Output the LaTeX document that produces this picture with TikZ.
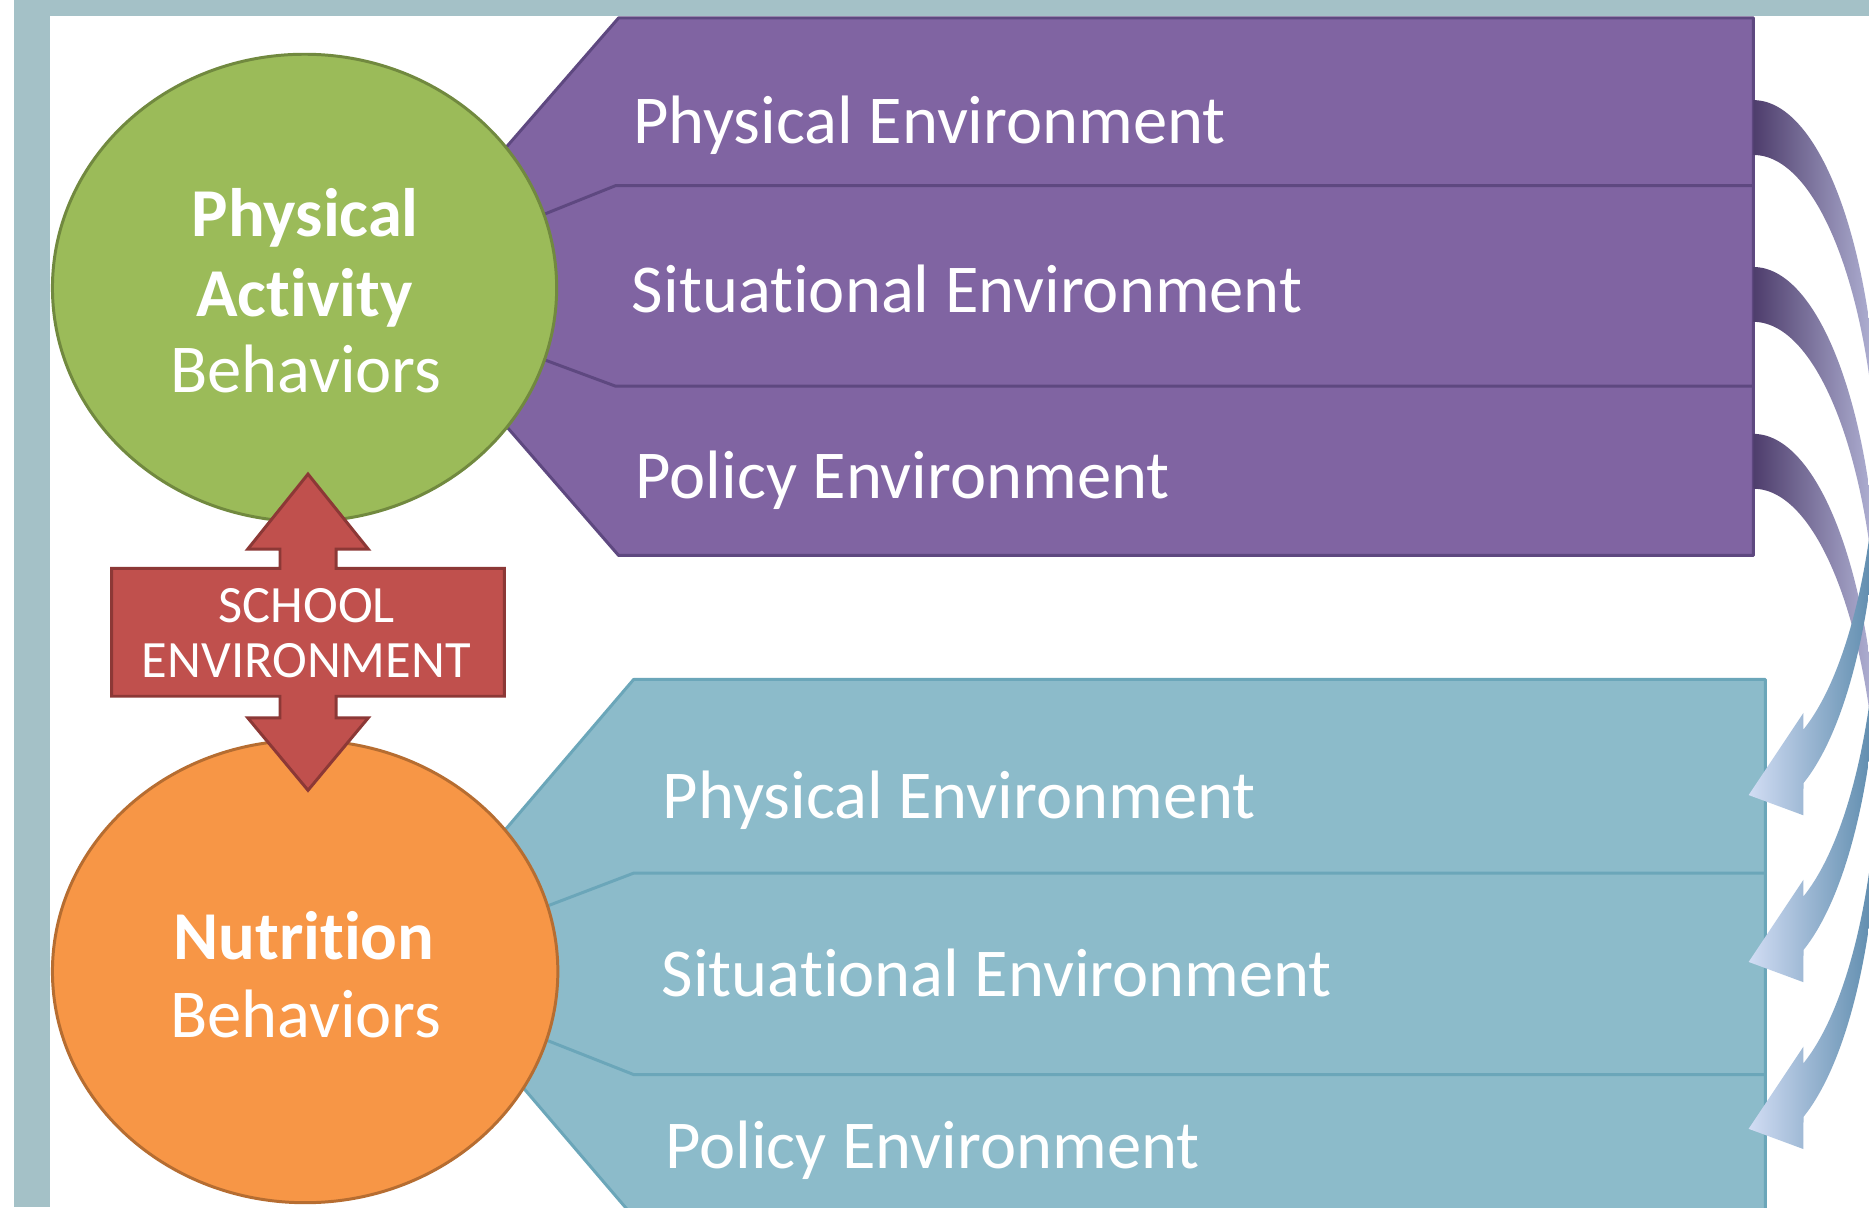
\documentclass[tikz,border=0pt]{standalone}
\usepackage{fontspec}
\setmainfont{Carlito}[Ligatures={NoCommon}]
\usetikzlibrary{shapes.geometric}
\definecolor{frameC}{HTML}{A4C1C7}
\definecolor{purpF}{HTML}{8064A2}
\definecolor{purpD}{HTML}{5E4880}
\definecolor{tealF}{HTML}{8CBBCA}
\definecolor{tealD}{HTML}{6BA6B9}
\definecolor{greenF}{HTML}{9BBB59}
\definecolor{greenD}{HTML}{71893F}
\definecolor{orangeF}{HTML}{F79646}
\definecolor{orangeD}{HTML}{B66D31}
\definecolor{redF}{HTML}{C0504D}
\definecolor{redD}{HTML}{8C3836}
\definecolor{arrDark}{HTML}{4E3D6C}
\definecolor{arrLav}{HTML}{B3B5D7}
\definecolor{arrLight}{HTML}{D2DDF4}
\definecolor{arrSteel}{HTML}{5A89AB}
\begin{document}
\begin{tikzpicture}[x=1pt,y=1pt,
  envlbl/.style={text=white, font=\fontsize{57.5}{66}\selectfont, inner sep=0pt, anchor=base west},
  circlbl/.style={text=white, font=\fontsize{57.5}{66}\selectfont, inner sep=0pt, anchor=base},
  schlbl/.style={text=white, font=\fontsize{44}{50}\selectfont, inner sep=0pt, anchor=base},
  purpband/.style={fill=purpF, draw=purpD, line width=2.5pt, line join=round},
  tealband/.style={fill=tealF, draw=tealD, line width=2.5pt, line join=round},
  purpdiv/.style={draw=purpD, line width=2.5pt},
  tealdiv/.style={draw=tealD, line width=2.5pt},
  blob/.style={ellipse, inner sep=0pt, line width=2.5pt},
  backface/.style={left color=arrDark, right color=arrLav},
  frontface/.style={left color=arrLight, right color=arrSteel}
]
\useasboundingbox (0,0) rectangle (1568,-1013);
\clip (0,0) rectangle (1568,-1013);
\fill[white] (0,0) rectangle (1568,-1013);
% frame bands
\fill[frameC] (12,0) rectangle (42,-1013);
\fill[frameC] (12,0) rectangle (1568,-13);

% purple environment block
\path[purpband] (519,-15) -- (1471,-15) -- (1471,-466) -- (519,-466) -- (323,-240.5) -- cycle;
\path[purpdiv] (380,-210.3) -- (456.6,-179.7) -- (516.5,-155.7) -- (1471,-155.7);
\path[purpdiv] (380,-273.4) -- (456.6,-301.8) -- (516.5,-324) -- (1471,-324);

% teal environment block
\path[tealband] (531.6,-570) -- (1481,-570) -- (1481,-1021) -- (531.6,-1021) -- (339,-795.5) -- cycle;
\path[tealdiv] (380,-790.2) -- (459.4,-760) -- (531.6,-732.5) -- (1481,-732.5);
\path[tealdiv] (380,-841.7) -- (459.4,-873) -- (531.6,-901.5) -- (1481,-901.5);

% circles
\node[blob, fill=greenF, draw=greenD, minimum width=423, minimum height=392] (pa) at (255.5,-241.5) {};
\node[blob, fill=orangeF, draw=orangeD, minimum width=424, minimum height=388] (nu) at (256,-815) {};

% circle texts
\node[circlbl] (pa1) at (256,-198) {\bfseries Physical};
\node[circlbl] (pa2) at (255.5,-265.5) {\bfseries Activity};
\node[circlbl] (pa3) at (256.5,-329) {Behaviors};
\node[circlbl] (nu1) at (255,-805) {\bfseries Nutrition};
\node[circlbl] (nu2) at (256.5,-870) {Behaviors};

% school environment double arrow
\path[fill=redF, draw=redD, line width=2.5pt, line join=miter]
  (258.4,-397.7) -- (308.9,-460.6) -- (281.9,-460.6) -- (281.9,-476.8) -- (423.2,-476.8)
  -- (423.2,-584.1) -- (281.9,-584.1) -- (281.9,-602.3) -- (308.9,-602.3) -- (258.4,-663)
  -- (207.9,-602.3) -- (234.9,-602.3) -- (234.9,-584.1) -- (93.6,-584.1) -- (93.6,-476.8)
  -- (234.9,-476.8) -- (234.9,-460.6) -- (207.9,-460.6) -- cycle;
\node[schlbl] (sc1) at (257.5,-522) {SCHOOL};
\node[schlbl] (sc2) at (257,-568.6) {ENVIRONMENT};

% environment labels
\node[envlbl] (p1) at (531,-120) {Physical Environment};
\node[envlbl] (p2) at (530,-262) {Situational Environment};
\node[envlbl] (p3) at (533,-418.5) {Policy Environment};
\node[envlbl] (t1) at (556,-687) {Physical Environment};
\node[envlbl] (t2) at (555,-836) {Situational Environment};
\node[envlbl] (t3) at (558,-980) {Policy Environment};

% curved arrows: back faces
\foreach \k in {0,1,2}{
  \pgfmathsetmacro{\dy}{140*\k}
  \shade[backface] (1471,-84-\dy) arc[start angle=90,end angle=0,x radius=105,y radius=299]
    -- ++(0,-46) arc[start angle=0,end angle=90,x radius=105,y radius=299] -- cycle;
}
% curved arrows: front faces with heads
\foreach \k in {0,1,2}{
  \pgfmathsetmacro{\dy}{140*\k}
  \shade[frontface] (1576,-383-\dy) arc[start angle=0,end angle=-66.4,x radius=105,y radius=299]
    -- (1513,-684-\dy) -- (1467,-667-\dy) -- (1513,-598-\dy) -- (1513,-612-\dy)
    arc[start angle=-66.4,end angle=0,x radius=105,y radius=299] -- cycle;
}
\end{tikzpicture}
\end{document}
